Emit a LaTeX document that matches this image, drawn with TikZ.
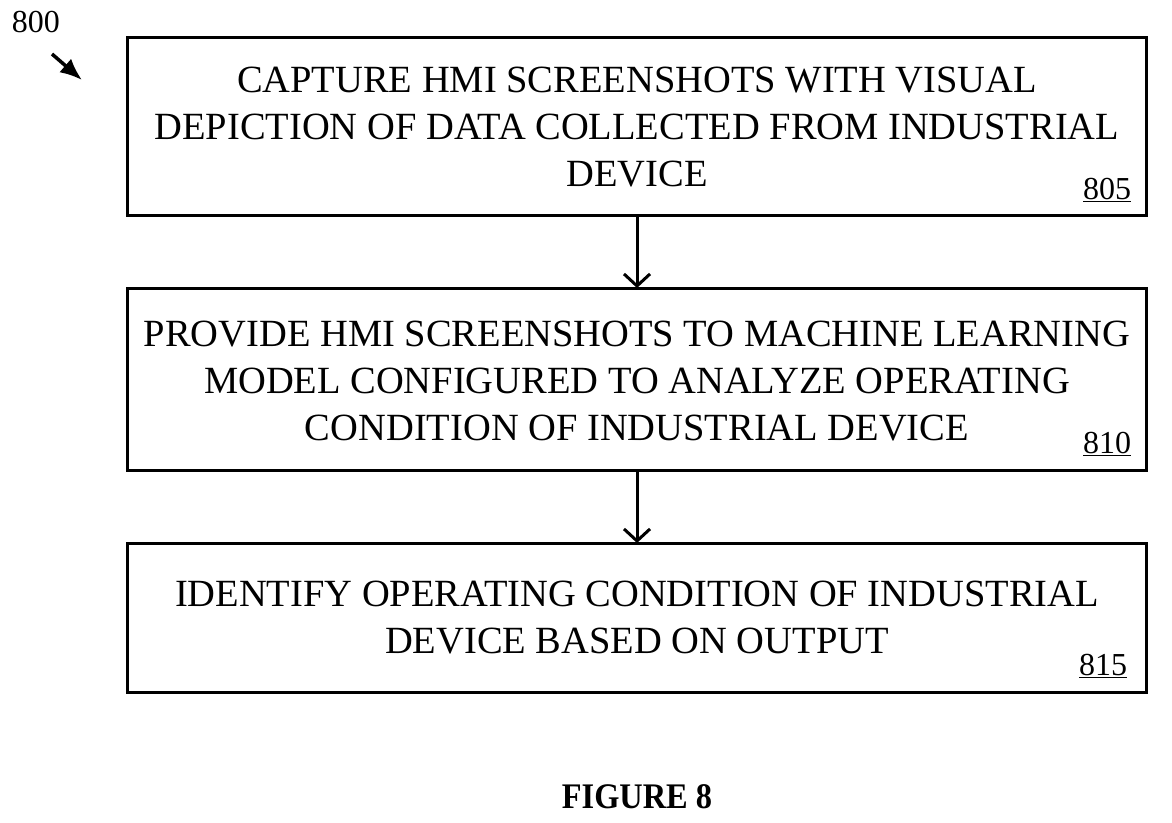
\documentclass[tikz,border=0pt]{standalone}
\usepackage{fontspec}
\setmainfont{Liberation Serif}
\usetikzlibrary{arrows.meta}
\begin{document}
\begin{tikzpicture}[x=1pt,y=-1pt,
  box/.style={draw,line width=3pt},
  txt/.style={align=center,font=\fontsize{38.5}{47}\selectfont},
  num/.style={font=\fontsize{32}{34}\selectfont},
  conn/.style={line width=3pt,-{Straight Barb[length=12pt,width=26pt,line width=3pt]}}]
\useasboundingbox (0,0) rectangle (1172,822);
\draw[box] (127,37) rectangle (1146,215);
\coordinate (b1t) at (637,215);
\draw[box] (127,288) rectangle (1146,470);
\coordinate (b2t) at (637,288);
\coordinate (b2b) at (637,470);
\draw[box] (127,543) rectangle (1146,692);
\coordinate (b3t) at (637,543);
\node[txt] (t1) at (637,127) {CAPTURE HMI SCREENSHOTS WITH VISUAL\\DEPICTION OF DATA COLLECTED FROM INDUSTRIAL\\DEVICE};
\node[txt] (t2) at (637,381) {PROVIDE HMI SCREENSHOTS TO MACHINE LEARNING\\MODEL CONFIGURED TO ANALYZE OPERATING\\CONDITION OF INDUSTRIAL DEVICE};
\node[txt] (t3) at (637,618) {IDENTIFY OPERATING CONDITION OF INDUSTRIAL\\DEVICE BASED ON OUTPUT};
\node[num] (n1) at (1107,190) {\underline{805}};
\node[num] (n2) at (1107,444) {\underline{810}};
\node[num] (n3) at (1103,666) {\underline{815}};
\draw[conn] (b1t) -- (b2t);
\draw[conn] (b2b) -- (b3t);
\node[num] (l800) at (36,22) {800};
\coordinate (a800) at (82,80);
\draw[line width=3.5pt,-{Latex[length=22pt,width=18pt]}] (52,54) -- (a800);
\node[font=\bfseries\fontsize{36}{38}\selectfont] (fig) at (637,797) {\scalebox{0.9}[1]{FIGURE 8}};
\end{tikzpicture}
\end{document}
